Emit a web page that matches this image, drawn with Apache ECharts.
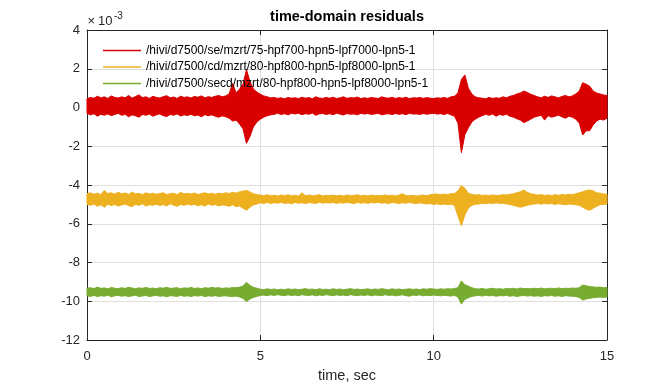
<!DOCTYPE html>
<html>
<head>
<meta charset="utf-8">
<script src="https://cdn.jsdelivr.net/npm/echarts@6/dist/echarts.min.js"></script>
<style>html,body{margin:0;padding:0;background:#fff;}#c{width:672px;height:384px;}</style>
</head>
<body>
<div id="c"></div>
<script>
// sampling grid of the envelope readings (seconds)
const tStart = 0, tStep = 0.1;
const xTicks = [0, 5, 10, 15];
const yTicks = [-12, -10, -8, -6, -4, -2, 0, 2, 4];
const seriesNames = [
  '/hivi/d7500/se/mzrt/75-hpf700-hpn5-lpf7000-lpn5-1',
  '/hivi/d7500/cd/mzrt/80-hpf800-hpn5-lpf8000-lpn5-1',
  '/hivi/d7500/secd/mzrt/80-hpf800-hpn5-lpf8000-lpn5-1'
];
// upper / lower envelopes (x 1e-3), one value per 0.1 s
const redHi = [
  0.45,0.52,0.48,0.58,0.50,0.55,0.47,0.60,0.52,0.49,
  0.55,0.50,0.62,0.48,0.57,0.65,0.51,0.55,0.47,0.58,
  0.52,0.49,0.56,0.61,0.50,0.54,0.47,0.58,0.52,0.55,
  0.49,0.57,0.53,0.60,0.50,0.56,0.52,0.58,0.62,0.55,
  0.60,0.70,1.25,0.75,0.95,1.20,1.95,1.35,0.95,0.80,
  0.68,0.60,0.55,0.50,0.52,0.47,0.50,0.45,0.52,0.48,
  0.50,0.46,0.53,0.48,0.51,0.45,0.55,0.49,0.47,0.52,
  0.48,0.53,0.46,0.50,0.55,0.47,0.51,0.49,0.54,0.46,
  0.50,0.47,0.52,0.49,0.46,0.55,0.50,0.48,0.53,0.47,
  0.51,0.48,0.53,0.46,0.50,0.49,0.52,0.47,0.51,0.48,
  0.46,0.50,0.48,0.52,0.47,0.55,0.58,0.75,1.45,1.68,
  1.00,0.70,0.55,0.50,0.48,0.45,0.52,0.47,0.50,0.48,
  0.55,0.50,0.58,0.62,0.70,0.75,0.85,0.78,0.68,0.62,
  0.55,0.50,0.58,0.52,0.60,0.55,0.50,0.57,0.62,0.55,
  0.60,0.70,0.85,1.28,1.20,1.10,0.85,0.75,0.70,0.65,
  0.62
];
const redLo = [
  -0.30,-0.38,-0.32,-0.45,-0.35,-0.40,-0.33,-0.42,-0.36,-0.30,
  -0.40,-0.35,-0.48,-0.38,-0.43,-0.50,-0.36,-0.40,-0.34,-0.45,
  -0.38,-0.33,-0.42,-0.47,-0.36,-0.40,-0.33,-0.44,-0.38,-0.41,
  -0.35,-0.43,-0.39,-0.48,-0.37,-0.42,-0.38,-0.45,-0.50,-0.43,
  -0.48,-0.55,-0.70,-0.65,-0.85,-1.10,-1.85,-1.50,-1.00,-0.75,
  -0.60,-0.50,-0.42,-0.38,-0.35,-0.30,-0.36,-0.32,-0.38,-0.30,
  -0.33,-0.30,-0.37,-0.32,-0.35,-0.29,-0.40,-0.33,-0.31,-0.36,
  -0.32,-0.37,-0.30,-0.34,-0.39,-0.31,-0.35,-0.33,-0.38,-0.30,
  -0.34,-0.31,-0.36,-0.33,-0.30,-0.38,-0.34,-0.32,-0.37,-0.31,
  -0.35,-0.32,-0.37,-0.30,-0.34,-0.33,-0.36,-0.31,-0.35,-0.32,
  -0.30,-0.34,-0.32,-0.36,-0.31,-0.38,-0.45,-0.80,-2.33,-1.40,
  -1.05,-0.75,-0.60,-0.50,-0.42,-0.35,-0.40,-0.33,-0.45,-0.36,
  -0.40,-0.35,-0.45,-0.50,-0.58,-0.65,-0.78,-0.70,-0.60,-0.50,
  -0.45,-0.40,-0.65,-0.42,-0.50,-0.45,-0.40,-0.48,-0.55,-0.45,
  -0.50,-0.60,-0.80,-1.42,-1.20,-1.20,-0.90,-0.70,-0.60,-0.65,
  -0.55
];
const yelHi = [
  -4.45,-4.40,-4.48,-4.42,-4.50,-4.28,-4.44,-4.40,-4.47,-4.38,
  -4.45,-4.41,-4.49,-4.36,-4.46,-4.43,-4.50,-4.40,-4.47,-4.42,
  -4.48,-4.44,-4.40,-4.49,-4.45,-4.42,-4.50,-4.38,-4.46,-4.43,
  -4.47,-4.41,-4.49,-4.44,-4.40,-4.46,-4.43,-4.48,-4.42,-4.45,
  -4.40,-4.44,-4.38,-4.42,-4.35,-4.32,-4.28,-4.36,-4.45,-4.50,
  -4.52,-4.55,-4.50,-4.56,-4.53,-4.57,-4.52,-4.55,-4.50,-4.56,
  -4.53,-4.57,-4.40,-4.55,-4.52,-4.56,-4.54,-4.50,-4.57,-4.53,
  -4.55,-4.52,-4.56,-4.53,-4.57,-4.51,-4.55,-4.54,-4.50,-4.56,
  -4.53,-4.57,-4.52,-4.55,-4.54,-4.56,-4.51,-4.55,-4.53,-4.57,
  -4.52,-4.45,-4.55,-4.56,-4.53,-4.57,-4.54,-4.52,-4.55,-4.50,
  -4.48,-4.46,-4.50,-4.47,-4.49,-4.45,-4.44,-4.30,-4.04,-4.17,
  -4.42,-4.48,-4.52,-4.50,-4.54,-4.52,-4.55,-4.51,-4.54,-4.53,
  -4.50,-4.52,-4.48,-4.45,-4.40,-4.35,-4.26,-4.38,-4.45,-4.48,
  -4.52,-4.50,-4.54,-4.51,-4.55,-4.50,-4.53,-4.49,-4.52,-4.48,
  -4.50,-4.45,-4.40,-4.35,-4.28,-4.26,-4.30,-4.40,-4.42,-4.46,
  -4.48
];
const yelLo = [
  -5.00,-5.05,-4.98,-5.10,-5.02,-5.15,-4.99,-5.06,-5.01,-5.08,
  -5.03,-4.98,-5.07,-5.12,-5.00,-5.05,-4.97,-5.09,-5.02,-5.04,
  -4.99,-5.06,-5.01,-5.08,-4.97,-5.04,-5.10,-5.00,-5.05,-4.98,
  -5.04,-5.00,-5.07,-5.02,-5.09,-4.98,-5.05,-5.01,-5.08,-5.03,
  -5.05,-5.10,-5.02,-5.12,-5.08,-5.20,-5.30,-5.15,-5.02,-4.98,
  -4.92,-4.95,-4.90,-4.96,-4.91,-4.94,-4.89,-4.95,-4.92,-4.97,
  -4.90,-4.94,-4.91,-4.96,-4.90,-4.93,-4.95,-4.89,-4.94,-4.91,
  -4.93,-4.90,-4.95,-4.91,-4.94,-4.89,-4.93,-4.96,-4.90,-4.94,
  -4.91,-4.95,-4.90,-4.93,-4.89,-4.94,-4.92,-4.96,-4.90,-4.93,
  -4.95,-4.91,-4.94,-4.90,-4.93,-4.96,-4.92,-4.95,-4.98,-4.96,
  -5.00,-4.97,-5.02,-4.98,-5.01,-4.99,-5.05,-5.60,-6.10,-5.55,
  -5.20,-5.05,-5.00,-4.98,-4.95,-4.97,-4.93,-4.96,-4.92,-4.95,
  -4.94,-4.98,-5.00,-5.05,-5.10,-5.15,-5.10,-5.05,-5.00,-4.98,
  -4.96,-4.99,-4.95,-4.98,-4.96,-5.00,-4.97,-4.99,-5.02,-4.98,
  -5.00,-5.02,-5.05,-5.15,-5.25,-5.30,-5.20,-5.10,-5.02,-5.00,
  -4.98
];
const grnHi = [
  -9.33,-9.30,-9.35,-9.27,-9.34,-9.31,-9.36,-9.29,-9.33,-9.35,
  -9.30,-9.34,-9.28,-9.32,-9.35,-9.31,-9.33,-9.29,-9.34,-9.32,
  -9.35,-9.30,-9.33,-9.28,-9.34,-9.32,-9.30,-9.35,-9.31,-9.33,
  -9.29,-9.34,-9.31,-9.35,-9.30,-9.33,-9.28,-9.32,-9.30,-9.34,
  -9.31,-9.33,-9.29,-9.30,-9.27,-9.22,-9.02,-9.18,-9.28,-9.33,
  -9.38,-9.40,-9.36,-9.39,-9.37,-9.41,-9.38,-9.40,-9.36,-9.39,
  -9.37,-9.40,-9.38,-9.35,-9.39,-9.37,-9.41,-9.36,-9.39,-9.38,
  -9.40,-9.36,-9.39,-9.37,-9.40,-9.38,-9.35,-9.39,-9.37,-9.40,
  -9.38,-9.36,-9.40,-9.37,-9.39,-9.35,-9.38,-9.40,-9.36,-9.39,
  -9.37,-9.40,-9.38,-9.36,-9.39,-9.37,-9.40,-9.36,-9.38,-9.35,
  -9.37,-9.39,-9.36,-9.38,-9.35,-9.37,-9.34,-9.30,-8.95,-9.15,
  -9.22,-9.30,-9.35,-9.37,-9.34,-9.38,-9.36,-9.33,-9.37,-9.35,
  -9.38,-9.34,-9.36,-9.33,-9.37,-9.32,-9.35,-9.34,-9.36,-9.33,
  -9.35,-9.32,-9.36,-9.34,-9.33,-9.36,-9.31,-9.35,-9.33,-9.34,
  -9.32,-9.33,-9.30,-9.16,-9.20,-9.24,-9.26,-9.28,-9.27,-9.30,
  -9.29
];
const grnLo = [
  -9.72,-9.75,-9.70,-9.76,-9.71,-9.74,-9.69,-9.77,-9.72,-9.70,
  -9.74,-9.71,-9.76,-9.72,-9.69,-9.75,-9.73,-9.70,-9.76,-9.72,
  -9.70,-9.74,-9.72,-9.77,-9.71,-9.73,-9.75,-9.70,-9.74,-9.72,
  -9.75,-9.71,-9.73,-9.70,-9.76,-9.72,-9.74,-9.71,-9.75,-9.73,
  -9.72,-9.74,-9.76,-9.73,-9.78,-9.85,-10.02,-9.88,-9.80,-9.75,
  -9.70,-9.68,-9.71,-9.67,-9.70,-9.66,-9.69,-9.71,-9.67,-9.70,
  -9.68,-9.71,-9.66,-9.69,-9.70,-9.67,-9.72,-9.68,-9.70,-9.66,
  -9.69,-9.71,-9.67,-9.70,-9.68,-9.72,-9.66,-9.69,-9.71,-9.68,
  -9.70,-9.67,-9.72,-9.68,-9.69,-9.71,-9.66,-9.70,-9.68,-9.72,
  -9.69,-9.67,-9.71,-9.74,-9.68,-9.70,-9.67,-9.72,-9.69,-9.71,
  -9.68,-9.70,-9.72,-9.69,-9.71,-9.73,-9.70,-9.78,-10.15,-9.90,
  -9.82,-9.75,-9.72,-9.70,-9.73,-9.69,-9.72,-9.70,-9.74,-9.71,
  -9.72,-9.70,-9.74,-9.71,-9.75,-9.72,-9.70,-9.73,-9.71,-9.74,
  -9.72,-9.75,-9.71,-9.73,-9.70,-9.74,-9.72,-9.75,-9.71,-9.73,
  -9.74,-9.76,-9.80,-9.94,-9.88,-9.85,-9.82,-9.80,-9.78,-9.80,
  -9.78
];
const colors = ['#D90000', '#EDB120', '#77AC30'];

const FONT = '"Liberation Sans", Arial, Helvetica, sans-serif';
const TXT = '#262626';

function band(name, hi, lo, color) {
  const data = hi.map((v, i) => [tStart + i * tStep, v, lo[i]]);
  return {
    name: name, type: 'custom', data: data, silent: true, animation: false,
    itemStyle: { color: color }, color: color,
    encode: { x: 0, y: [1, 2] },
    renderItem: function (params, api) {
      if (params.dataIndex !== 0) return null;
      const pts = [];
      for (let i = 0; i < data.length; i++) pts.push(api.coord([data[i][0], data[i][1]]));
      for (let i = data.length - 1; i >= 0; i--) pts.push(api.coord([data[i][0], data[i][2]]));
      return {
        type: 'polygon',
        shape: { points: pts },
        style: { fill: color, stroke: color, lineWidth: 1, lineJoin: 'miter', miterLimit: 20 }
      };
    }
  };
}

const chart = echarts.init(document.getElementById('c'), null, { renderer: 'canvas' });
const axisLine = { show: true, onZero: false, lineStyle: { color: TXT, width: 1 } };
const axisTick = { show: true, inside: true, length: 5, lineStyle: { color: TXT } };
const gridLine = { show: true, lineStyle: { color: '#dfdfdf', width: 1 } };
chart.setOption({
  animation: false,
  backgroundColor: '#fff',
  textStyle: { fontFamily: FONT },
  grid: { left: 87, right: 65, top: 30, bottom: 44, containLabel: false, outerBoundsMode: 'none' },
  legend: {
    data: seriesNames,
    orient: 'vertical', left: 103, top: 43.5, padding: 0,
    itemWidth: 38, itemHeight: 1.5, itemGap: 2.5, icon: 'rect',
    textStyle: { fontFamily: FONT, fontSize: 12, color: '#000', lineHeight: 14 },
    selectedMode: false
  },
  xAxis: [
    { type: 'value', position: 'bottom', min: xTicks[0], max: xTicks[xTicks.length - 1], interval: 5,
      name: 'time, sec', nameLocation: 'middle', nameGap: 28,
      nameTextStyle: { fontFamily: FONT, fontSize: 14.5, color: TXT },
      axisLine: axisLine, axisTick: axisTick,
      axisLabel: { fontFamily: FONT, fontSize: 13, color: TXT, margin: 9.5 },
      splitLine: gridLine },
    { type: 'value', position: 'top', min: xTicks[0], max: xTicks[xTicks.length - 1], interval: 5,
      axisLine: axisLine, axisTick: axisTick,
      axisLabel: { show: false }, splitLine: { show: false } }
  ],
  yAxis: [
    { type: 'value', position: 'left', min: yTicks[0], max: yTicks[yTicks.length - 1], interval: 2,
      axisLine: axisLine, axisTick: axisTick,
      axisLabel: { fontFamily: FONT, fontSize: 13, color: TXT, margin: 7 },
      splitLine: gridLine },
    { type: 'value', position: 'right', min: yTicks[0], max: yTicks[yTicks.length - 1], interval: 2,
      axisLine: axisLine, axisTick: axisTick,
      axisLabel: { show: false }, splitLine: { show: false } }
  ],
  graphic: [
    { type: 'text', x: 347, y: 16.5, z: 100,
      style: { text: 'time-domain residuals', font: 'bold 14.5px ' + FONT, fill: '#000',
               textAlign: 'center', textVerticalAlign: 'middle' } },
    { type: 'text', x: 87.5, y: 21, z: 100,
      style: { text: '\u00d7', font: '13px ' + FONT, fill: TXT, textAlign: 'left', textVerticalAlign: 'middle' } },
    { type: 'text', x: 98, y: 21.5, z: 100,
      style: { text: '10', font: '13px ' + FONT, fill: TXT, textAlign: 'left', textVerticalAlign: 'middle' } },
    { type: 'text', x: 114, y: 16.5, z: 100,
      style: { text: '-3', font: '10px ' + FONT, fill: TXT, textAlign: 'left', textVerticalAlign: 'middle' } }
  ],
  series: [
    band(seriesNames[0], redHi, redLo, colors[0]),
    band(seriesNames[1], yelHi, yelLo, colors[1]),
    band(seriesNames[2], grnHi, grnLo, colors[2])
  ]
});
</script>
</body>
</html>
